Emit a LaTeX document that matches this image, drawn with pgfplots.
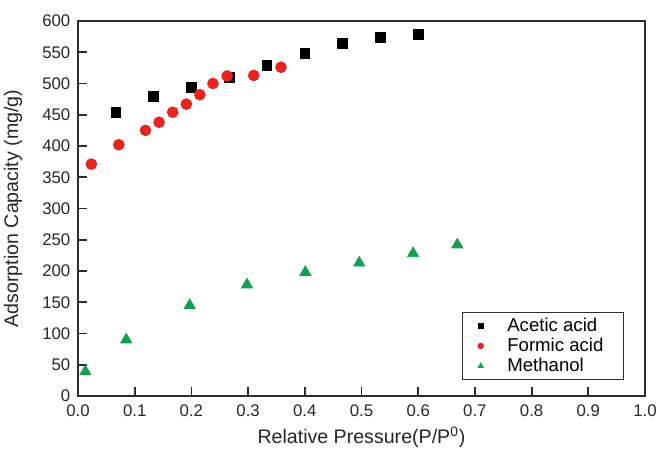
\documentclass[border=0pt]{standalone}
\usepackage{fontspec}
\setmainfont{Liberation Sans}
\usepackage{pgfplots}
\pgfplotsset{compat=1.18}
\definecolor{fred}{RGB}{232,36,30}
\definecolor{mgreen}{RGB}{20,160,80}
\definecolor{frame}{RGB}{45,45,45}
\begin{document}
\begin{tikzpicture}
\path[use as bounding box] (-39pt,-28.5pt) rectangle (289pt,198pt);
\begin{axis}[
  at={(0,0)}, anchor=south west,
  scale only axis,
  width=283.5pt, height=187.5pt,
  xmin=0, xmax=1.0, ymin=0, ymax=600,
  xtick={0,0.1,...,1.0},
  ytick={0,50,...,600},
  xticklabel style={yshift=-0.8pt, /pgf/number format/.cd,fixed,fixed zerofill,precision=1},
  /pgf/number format/assume math mode=true,
  tick align=inside,
  xtick pos=bottom, ytick pos=left,
  major tick length=4.5pt,
  axis line style={frame, line width=0.9pt},
  tick style={frame, line width=0.9pt},
  tick label style={font=\fontsize{8.4}{9}\selectfont, text=black!85},
  yticklabel style={xshift=-0.3pt},
  label style={font=\fontsize{9.8}{11}\selectfont, text=black!85},
  xlabel={Relative Pressure(P/P\textsuperscript{0})},
  ylabel={Adsorption Capacity (mg/g)},
  xlabel style={at={(axis description cs:0.5,-0.1093)}, anchor=center},
  ylabel style={at={(axis description cs:-0.1146,0.5)}, anchor=center},
  legend style={at={(0.963,0.043)}, anchor=south east, draw=frame, line width=0.6pt,
    font=\fontsize{9.3}{10}\selectfont, row sep=0pt, inner xsep=8pt, inner ysep=1.6pt,
    nodes={inner ysep=0.9pt},
    /tikz/every odd column/.append style={column sep=10pt}},
  legend image post style={mark size=1.3pt},
  legend cell align=left,
  clip=false,
]
\addplot[only marks, mark=square*, mark size=2.4pt, black] coordinates {
(0.0667,454) (0.1333,479) (0.2,494) (0.2667,510) (0.3333,529) (0.4,548) (0.4667,564) (0.5333,574) (0.6,579)
};
\addlegendentry{Acetic acid}
\addplot[only marks, mark=*, mark size=2.7pt, fred, mark options={draw=fred, fill=fred}] coordinates {
(0.0235,371) (0.072,402) (0.119,425) (0.143,438) (0.167,454) (0.191,467) (0.215,482) (0.238,500) (0.263,512) (0.31,513) (0.358,526)
};
\addlegendentry{Formic acid}
\addplot[only marks, mark=triangle*, mark size=3.2pt, mgreen, mark options={draw=mgreen, fill=mgreen}] coordinates {
(0.013,39) (0.085,90) (0.197,145) (0.298,178) (0.401,198) (0.496,213) (0.591,228) (0.669,242)
};
\addlegendentry{Methanol}
\end{axis}
\end{tikzpicture}
\end{document}
